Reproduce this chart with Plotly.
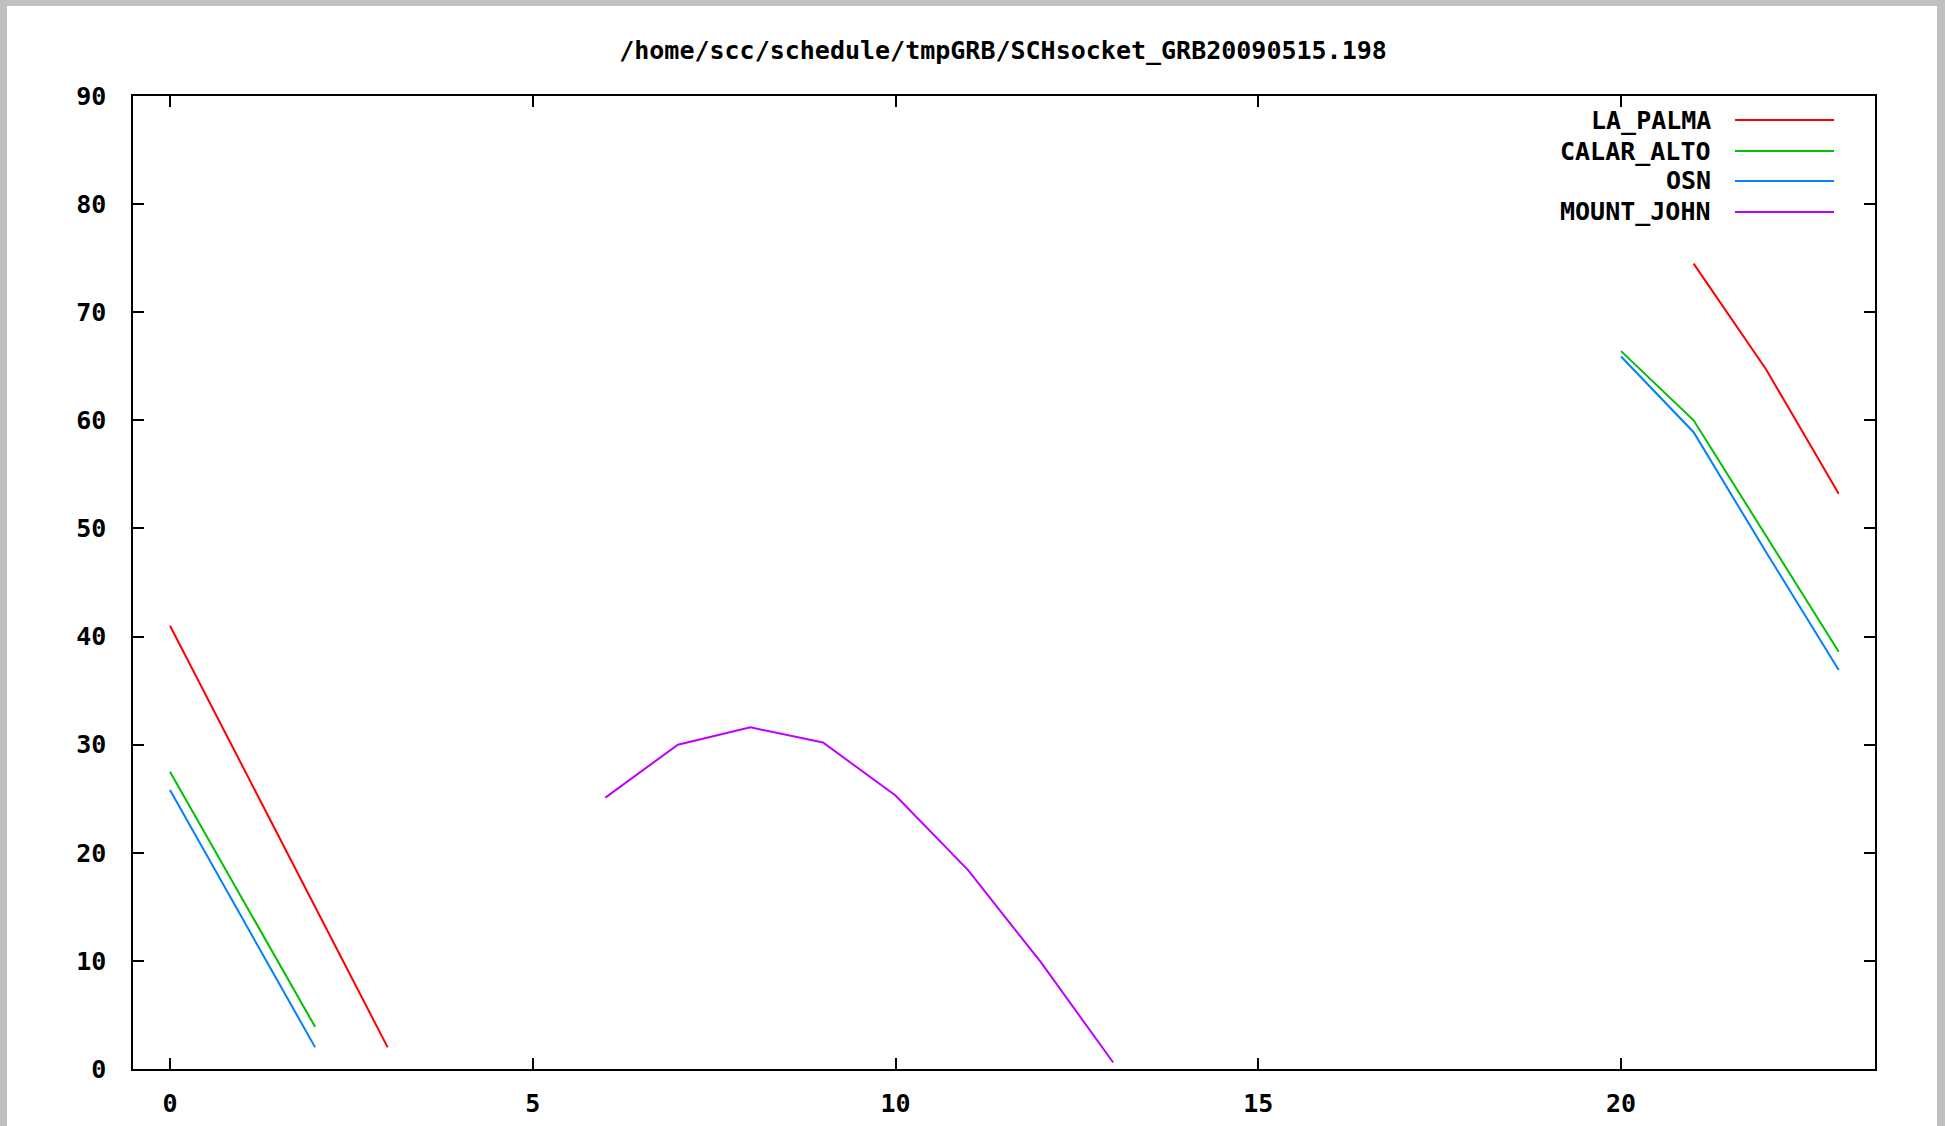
import plotly.graph_objects as go

hours = list(range(24))
N = None
la_palma = [41.0, 28.0, 15.0, 2.0] + [N] * 17 + [74.5, 64.7, 53.2]
calar_alto = [27.5, 15.7, 3.9] + [N] * 17 + [66.4, 60.0, 49.3, 38.6]
osn = [25.8, 13.9, 2.0] + [N] * 17 + [65.9, 58.9, 47.8, 36.9]
mount_john = [N] * 6 + [25.1, 30.0, 31.6, 30.2, 25.3, 18.4, 9.9, 0.6] + [N] * 10

series_names = ["LA_PALMA", "CALAR_ALTO", "OSN", "MOUNT_JOHN"]
series_vals = [la_palma, calar_alto, osn, mount_john]
colors = ["#ff0000", "#00c000", "#0080ff", "#c000ff"]

x_ticks = [0, 5, 10, 15, 20]
y_ticks = list(range(0, 100, 10))
title_text = "/home/scc/schedule/tmpGRB/SCHsocket_GRB20090515.198"

FONT = "DejaVu Sans Mono"
fs = 25

fig = go.Figure()
for name, vals, c in zip(series_names, series_vals, colors):
    fig.add_trace(go.Scatter(x=hours, y=vals, mode="lines", name=name,
                             line=dict(color=c, width=2), connectgaps=False,
                             showlegend=False))

L, R, T, B = 133, 70, 96, 57
W, H = 1945, 1126
pw, ph = W - L - R, H - T - B

def px_x(p):
    return (p - L) / pw

def px_y(p):
    return 1 - (p - T) / ph

shapes = [dict(type="rect", xref="paper", yref="paper",
               x0=px_x(7), x1=px_x(1937), y0=px_y(1200), y1=px_y(6),
               fillcolor="white", line=dict(width=0), layer="below")]
annotations = []
row_y = [120, 151, 181, 212]
for name, c, ry in zip(series_names, colors, row_y):
    annotations.append(dict(xref="paper", yref="paper", x=px_x(1713), y=px_y(ry),
                            text=name, showarrow=False, xanchor="right", yanchor="middle",
                            font=dict(family=FONT, size=fs, color="black", weight="bold")))
    shapes.append(dict(type="line", xref="paper", yref="paper",
                       x0=px_x(1735), x1=px_x(1834), y0=px_y(ry), y1=px_y(ry),
                       line=dict(color=c, width=2)))

fig.update_layout(
    width=W, height=H,
    margin=dict(l=L, r=R, t=T, b=B, autoexpand=False),
    paper_bgcolor="#c0c0c0",
    plot_bgcolor="white",
    title=dict(text=title_text, xref="container", x=1003 / W, xanchor="center",
               yref="container", y=1 - 50 / H, yanchor="middle", automargin=False,
               font=dict(family=FONT, size=fs, color="black", weight="bold")),
    shapes=shapes,
    annotations=annotations,
    showlegend=False,
)
axis_common = dict(showline=True, linecolor="black", linewidth=1.5, mirror="ticks",
                   ticks="inside", ticklen=11, tickwidth=1.5, tickcolor="black",
                   showgrid=False, zeroline=False, automargin=False,
                   tickfont=dict(family=FONT, size=fs, color="black", weight="bold"))
fig.update_xaxes(range=[-0.51, 23.5], tickvals=x_ticks, ticktext=[str(v) for v in x_ticks],
                 ticklabelstandoff=11, **axis_common)
fig.update_yaxes(range=[0, 90], tickvals=y_ticks, ticktext=[str(v) for v in y_ticks],
                 ticklabelstandoff=20, **axis_common)

fig.write_html("out.html", config={"displayModeBar": False},
               post_script="document.body.style.margin='0';document.body.style.overflow='hidden';")
